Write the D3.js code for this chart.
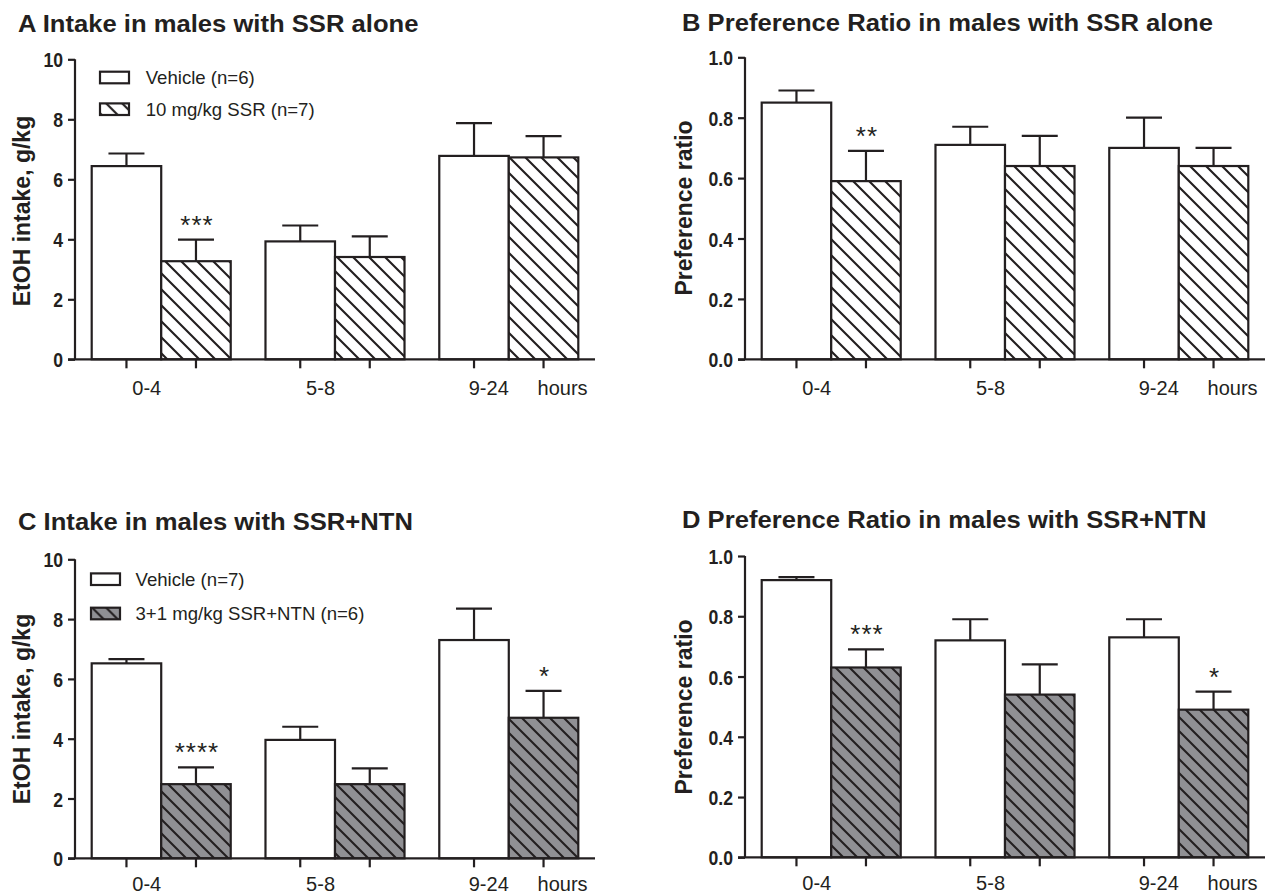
<!DOCTYPE html>
<html>
<head>
<meta charset="utf-8">
<script src="https://cdn.jsdelivr.net/npm/d3@7"></script>
<style>
  body { margin: 0; background: #fff; }
  svg { display: block; font-family: "Liberation Sans", Arial, sans-serif; }
</style>
</head>
<body>
<svg id="chart" width="1269" height="896"></svg>
<script>
// time windows after injection
const periods = ['0-4', '5-8', '9-24'];

// A: intake, SSR alone (g/kg)
const intakeVehA = [6.44, 3.93, 6.78];
const intakeVehAErr = [0.42, 0.53, 1.09];
const intakeSsrA = [3.27, 3.41, 6.73];
const intakeSsrAErr = [0.72, 0.69, 0.71];
const starsA = ['***', '', ''];

// B: preference ratio, SSR alone
const prefVehB = [0.85, 0.71, 0.70];
const prefVehBErr = [0.04, 0.06, 0.10];
const prefSsrB = [0.59, 0.64, 0.64];
const prefSsrBErr = [0.10, 0.10, 0.06];
const starsB = ['**', '', ''];

// C: intake, SSR+NTN (g/kg)
const intakeVehC = [6.52, 3.96, 7.30];
const intakeVehCErr = [0.14, 0.44, 1.05];
const intakeComboC = [2.48, 2.48, 4.70];
const intakeComboCErr = [0.56, 0.53, 0.90];
const starsC = ['****', '', '*'];

// D: preference ratio, SSR+NTN
const prefVehD = [0.92, 0.72, 0.73];
const prefVehDErr = [0.01, 0.07, 0.06];
const prefComboD = [0.63, 0.54, 0.49];
const prefComboDErr = [0.06, 0.10, 0.06];
const starsD = ['***', '', '*'];

const intakeTicks = [0, 2, 4, 6, 8, 10];
const prefTicks = [0, 0.2, 0.4, 0.6, 0.8, 1.0];

const ink = '#231f20';
const grey = '#909094';

const svg = d3.select('#chart');
const defs = svg.append('defs');

// diagonal hatch, top-left to bottom-right
function hatch(id, bg, s) {
  const p = defs.append('pattern')
    .attr('id', id)
    .attr('patternUnits', 'userSpaceOnUse')
    .attr('width', s).attr('height', s);
  p.append('rect').attr('width', s).attr('height', s).attr('fill', bg);
  p.append('path')
    .attr('d', `M-2,-2L${s + 2},${s + 2}M${-s / 2 - 2},${s / 2 - 2}L${s / 2 + 2},${1.5 * s + 2}M${s / 2 - 2},${-s / 2 - 2}L${1.5 * s + 2},${s / 2 + 2}`)
    .attr('stroke', ink).attr('stroke-width', 2.1);
}
hatch('hatchWhite', '#fff', 16);
hatch('hatchGrey', grey, 14);

const panels = [
  { title: 'A Intake in males with SSR alone', yLabel: 'EtOH intake, g/kg',
    bx: 91.7, top: 59.3, base: 359.3, titleX: 18, titleY: 31.5, yLabX: 29.5, yLabY: 211,
    domain: [0, 10], ticks: intakeTicks, fmt: d3.format('d'),
    veh: intakeVehA, vehErr: intakeVehAErr, drug: intakeSsrA, drugErr: intakeSsrAErr,
    stars: starsA, drugFill: 'url(#hatchWhite)',
    legend: { x: 100, y: 77.5, gap: 31.7, tx: 145.7, names: ['Vehicle (n=6)', '10 mg/kg SSR (n=7)'] } },
  { title: 'B Preference Ratio in males with SSR alone', yLabel: 'Preference ratio',
    bx: 761.7, top: 57.3, base: 359.3, titleX: 682, titleY: 31, yLabX: 692, yLabY: 208,
    domain: [0, 1], ticks: prefTicks, fmt: d3.format('.1f'),
    veh: prefVehB, vehErr: prefVehBErr, drug: prefSsrB, drugErr: prefSsrBErr,
    stars: starsB, drugFill: 'url(#hatchWhite)' },
  { title: 'C Intake in males with SSR+NTN', yLabel: 'EtOH intake, g/kg',
    bx: 91.7, top: 559.3, base: 858.3, titleX: 18, titleY: 530, yLabX: 29.6, yLabY: 709,
    domain: [0, 10], ticks: intakeTicks, fmt: d3.format('d'),
    veh: intakeVehC, vehErr: intakeVehCErr, drug: intakeComboC, drugErr: intakeComboCErr,
    stars: starsC, drugFill: 'url(#hatchGrey)',
    legend: { x: 91, y: 579.2, gap: 34.3, tx: 135.5, names: ['Vehicle (n=7)', '3+1 mg/kg SSR+NTN (n=6)'] } },
  { title: 'D Preference Ratio in males with SSR+NTN', yLabel: 'Preference ratio',
    bx: 761.7, top: 556, base: 857.3, titleX: 682, titleY: 528, yLabX: 692, yLabY: 707,
    domain: [0, 1], ticks: prefTicks, fmt: d3.format('.1f'),
    veh: prefVehD, vehErr: prefVehDErr, drug: prefComboD, drugErr: prefComboDErr,
    stars: starsD, drugFill: 'url(#hatchGrey)' }
];

panels.forEach(drawPanel);

// text squeezed or stretched in x only, the source mixes type widths
function scaledText(sel, x, y, sx) {
  return sel.attr('transform', `translate(${x},${y}) scale(${sx},1)`);
}

function drawPanel(cfg) {
  const g = svg.append('g');
  const ax = cfg.bx - 16.7;
  const xEnd = cfg.bx + 503.3;
  const bottomPanel = cfg.base > 500;

  const x0 = d3.scaleBand().domain(periods)
    .range([cfg.bx, cfg.bx + 486.6]).paddingInner(0.2).paddingOuter(0);
  const x1 = d3.scaleBand().domain(['veh', 'drug']).range([0, x0.bandwidth()]);
  const y = d3.scaleLinear().domain(cfg.domain).range([cfg.base, cfg.top]);

  const rows = periods.map((p, i) => [
    { p, key: 'veh', v: cfg.veh[i], e: cfg.vehErr[i], fill: '#fff', star: '' },
    { p, key: 'drug', v: cfg.drug[i], e: cfg.drugErr[i], fill: cfg.drugFill, star: cfg.stars[i] }
  ]).flat();
  const cx = d => x0(d.p) + x1(d.key) + x1.bandwidth() / 2;

  // error bars (upper only)
  g.selectAll('.err').data(rows).join('path')
    .attr('fill', 'none').attr('stroke', ink).attr('stroke-width', 2.2)
    .attr('d', d => `M${cx(d)},${y(d.v)}V${y(d.v + d.e)}M${cx(d) - 18},${y(d.v + d.e)}H${cx(d) + 18}`);

  g.selectAll('.bar').data(rows).join('rect')
    .attr('x', d => x0(d.p) + x1(d.key))
    .attr('y', d => y(d.v))
    .attr('width', x1.bandwidth())
    .attr('height', d => y(0) - y(d.v))
    .attr('fill', d => d.fill)
    .attr('stroke', ink).attr('stroke-width', 2.2);

  g.selectAll('.star').data(rows.filter(d => d.star)).join('text')
    .attr('x', d => cx(d) + 1)
    .attr('y', d => y(d.v + d.e) - 6)
    .attr('text-anchor', 'middle')
    .attr('font-size', 26).attr('letter-spacing', 1)
    .attr('fill', ink)
    .text(d => d.star);

  // y axis
  const yAxis = d3.axisLeft(y).tickValues(cfg.ticks).tickFormat(cfg.fmt)
    .tickSize(7).tickPadding(5);
  const ya = g.append('g').attr('transform', `translate(${ax},0)`).call(yAxis);
  ya.select('.domain').attr('d', `M0,${cfg.top}V${cfg.base}`);
  ya.selectAll('path, line').attr('stroke', ink).attr('stroke-width', 2.2);
  ya.selectAll('text')
    .attr('x', null).attr('dy', '0.36em')
    .attr('transform', 'translate(-12,0) scale(0.84,1)')
    .attr('font-size', 21).attr('font-weight', 'bold').attr('fill', ink);

  // x axis: ticks at each bar centre
  g.append('line')
    .attr('x1', ax - 7).attr('x2', xEnd)
    .attr('y1', cfg.base).attr('y2', cfg.base)
    .attr('stroke', ink).attr('stroke-width', 2.2);
  g.selectAll('.xt').data(rows).join('line')
    .attr('x1', cx).attr('x2', cx)
    .attr('y1', cfg.base).attr('y2', cfg.base + 9)
    .attr('stroke', ink).attr('stroke-width', 2.2);

  const labY = cfg.base + (bottomPanel ? 33 : 36);
  g.selectAll('.xl').data(periods).join('text')
    .attr('x', p => x0(p) + x0.bandwidth() / 2)
    .attr('y', labY)
    .attr('text-anchor', 'end')
    .attr('font-size', 20).attr('fill', ink)
    .text(p => p);
  const last = periods[periods.length - 1];
  g.append('text')
    .attr('x', x0(last) + x1('drug') + x1.bandwidth() / 2 - 6)
    .attr('y', labY)
    .attr('font-size', 20).attr('fill', ink)
    .text('hours');

  g.append('text')
    .attr('transform', `translate(${cfg.yLabX},${cfg.yLabY}) rotate(-90)`)
    .attr('text-anchor', 'middle')
    .attr('font-size', 23).attr('font-weight', 'bold').attr('fill', ink)
    .text(cfg.yLabel);

  scaledText(g.append('text'), cfg.titleX, cfg.titleY, 1.09)
    .attr('font-size', 23.5).attr('font-weight', 'bold').attr('fill', ink)
    .text(cfg.title);

  if (cfg.legend) {
    const L = cfg.legend;
    const items = [{ name: L.names[0], fill: '#fff' }, { name: L.names[1], fill: cfg.drugFill }];
    const lg = g.selectAll('.leg').data(items).join('g')
      .attr('transform', (d, i) => `translate(0,${L.y + i * L.gap})`);
    lg.append('rect')
      .attr('x', L.x).attr('y', -5.8).attr('width', 29).attr('height', 11.6)
      .attr('fill', d => d.fill).attr('stroke', ink).attr('stroke-width', 2.2);
    lg.append('text')
      .attr('x', L.tx).attr('y', 6.5)
      .attr('font-size', 18.6).attr('fill', ink)
      .text(d => d.name);
  }
}
</script>
</body>
</html>
